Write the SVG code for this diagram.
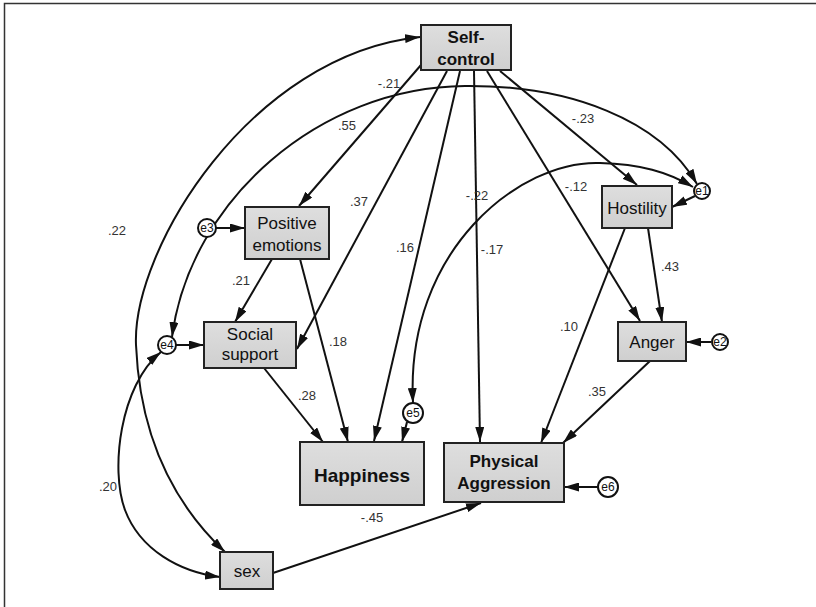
<svg xmlns="http://www.w3.org/2000/svg" width="816" height="607" viewBox="0 0 816 607">
<defs>
<marker id="ah" viewBox="0 0 15 9" refX="15" refY="4.5" markerWidth="15" markerHeight="9" markerUnits="userSpaceOnUse" orient="auto">
<path d="M0,0 L15,4.5 L0,9 z" fill="#111"/>
</marker>
<marker id="ahs" viewBox="0 0 15 9" refX="15" refY="4.5" markerWidth="15" markerHeight="9" markerUnits="userSpaceOnUse" orient="auto-start-reverse">
<path d="M0,0 L15,4.5 L0,9 z" fill="#111"/>
</marker>
<linearGradient id="bg" x1="0" y1="0" x2="0" y2="1">
<stop offset="0" stop-color="#dedede"/>
<stop offset="1" stop-color="#cfcfcf"/>
</linearGradient>
</defs>
<style>
.box{fill:url(#bg);stroke:#222;stroke-width:2}
.err{fill:#fff;stroke:#111;stroke-width:2}
.lbl{font-family:"Liberation Sans",Arial,sans-serif;font-size:17px;fill:#111;text-anchor:middle}
.bold{font-weight:bold}
.etx{font-family:"Liberation Sans",Arial,sans-serif;font-size:12px;fill:#111;text-anchor:middle}
.ed{font-family:"Liberation Sans",Arial,sans-serif;font-size:13px;fill:#333;text-anchor:middle}
.c{fill:none;stroke:#111;stroke-width:2}
.a{marker-end:url(#ah)}
.b{marker-start:url(#ahs);marker-end:url(#ah)}
.frame{stroke:#333;stroke-width:1.5;fill:none}
</style>
<rect width="816" height="607" fill="#fff"/>
<path class="frame" d="M4.5,607 L4.5,3.5 L816,3.5"/>

<g id="connectors">
<!-- Self-control paths -->
<path class="c a" d="M421,65 L299,206"/>
<path class="c a" d="M447,71 L297,349"/>
<path class="c a" d="M460,71 L374,441"/>
<path class="c a" d="M474,71 L480,442"/>
<path class="c a" d="M487,71 L640,321"/>
<path class="c a" d="M500,71 L637,185"/>
<!-- covariances -->
<path class="c b" d="M420,37 C250,55 132,250 136,345 C140,440 175,505 225,552"/>
<path class="c b" d="M161,352 C120,385 110,470 125,510 C140,550 180,572 220,577"/>
<path class="c b" d="M172,337 C190,200 320,87 465,86 C570,85 660,120 697,184"/>
<path class="c b" d="M413,403 C405,250 520,160 600,163 C640,164 668,172 693,187"/>
<!-- error terms -->
<path class="c a" d="M216,228 L245,228"/>
<path class="c a" d="M176,345 L204,345"/>
<path class="c a" d="M711,342 L686,342"/>
<path class="c a" d="M598,487 L564,487"/>
<path class="c a" d="M695,196 L672,207"/>
<path class="c a" d="M407,422 L402,442"/>
<!-- other paths -->
<path class="c a" d="M272,259 L235,322"/>
<path class="c a" d="M300,259 L348,442"/>
<path class="c a" d="M264,368 L323,442"/>
<path class="c a" d="M648,228 L662,322"/>
<path class="c a" d="M625,228 L541,443"/>
<path class="c a" d="M650,361 L563,443"/>
<path class="c a" d="M273,573 L481,503"/>
</g>

<g id="edge-labels">
<text class="ed" x="389" y="88">-.21</text>
<text class="ed" x="347" y="130">.55</text>
<text class="ed" x="583" y="123">-.23</text>
<text class="ed" x="576" y="191">-.12</text>
<text class="ed" x="477" y="200">-.22</text>
<text class="ed" x="359" y="206">.37</text>
<text class="ed" x="405" y="252">.16</text>
<text class="ed" x="492" y="254">-.17</text>
<text class="ed" x="117" y="235">.22</text>
<text class="ed" x="241" y="285">.21</text>
<text class="ed" x="338" y="346">.18</text>
<text class="ed" x="670" y="271">.43</text>
<text class="ed" x="569" y="331">.10</text>
<text class="ed" x="307" y="400">.28</text>
<text class="ed" x="597" y="396">.35</text>
<text class="ed" x="108" y="491">.20</text>
<text class="ed" x="372" y="522">-.45</text>
</g>

<g id="self-control">
<rect class="box" x="421" y="25" width="90" height="45"/>
<text class="lbl bold" x="466" y="43" font-size="18">Self-</text>
<text class="lbl bold" x="466" y="65" font-size="18">control</text>
</g>
<g id="positive-emotions">
<rect class="box" x="245" y="207" width="84" height="52"/>
<text class="lbl" x="287" y="229">Positive</text>
<text class="lbl" x="287" y="251">emotions</text>
</g>
<g id="social-support">
<rect class="box" x="204" y="322" width="92" height="46"/>
<text class="lbl" x="250" y="340">Social</text>
<text class="lbl" x="250" y="360">support</text>
</g>
<g id="hostility">
<rect class="box" x="602" y="186" width="70" height="42"/>
<text class="lbl" x="637" y="214">Hostility</text>
</g>
<g id="anger">
<rect class="box" x="618" y="322" width="68" height="39"/>
<text class="lbl" x="652" y="348">Anger</text>
</g>
<g id="happiness">
<rect class="box" x="300" y="442" width="124" height="63"/>
<text class="lbl bold" x="362" y="482" style="font-size:19px">Happiness</text>
</g>
<g id="physical-aggression">
<rect class="box" x="444" y="443" width="120" height="59"/>
<text class="lbl bold" x="504" y="467">Physical</text>
<text class="lbl bold" x="504" y="489">Aggression</text>
</g>
<g id="sex">
<rect class="box" x="220" y="552" width="53" height="37"/>
<text class="lbl" x="247" y="577">sex</text>
</g>

<g id="e1"><circle class="err" cx="702" cy="191" r="8"/><text class="etx" x="702" y="195">e1</text></g>
<g id="e2"><circle class="err" cx="720" cy="342" r="8"/><text class="etx" x="720" y="346">e2</text></g>
<g id="e3"><circle class="err" cx="207" cy="228" r="9"/><text class="etx" x="207" y="232">e3</text></g>
<g id="e4"><circle class="err" cx="167" cy="345" r="9"/><text class="etx" x="167" y="349">e4</text></g>
<g id="e5"><circle class="err" cx="413" cy="413" r="10"/><text class="etx" x="413" y="417">e5</text></g>
<g id="e6"><circle class="err" cx="608" cy="487" r="10"/><text class="etx" x="608" y="491">e6</text></g>
</svg>
